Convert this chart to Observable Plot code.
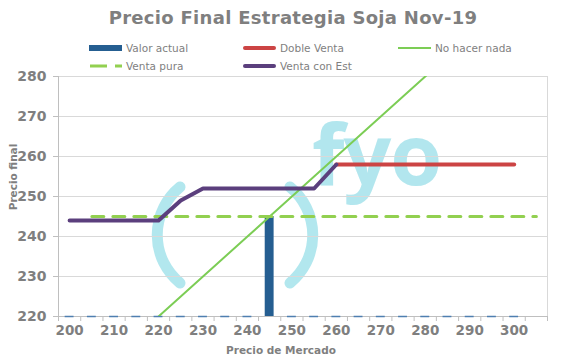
<!DOCTYPE html>
<html>
<head>
<meta charset="utf-8">
<script src="https://cdn.jsdelivr.net/npm/d3@7"></script>
<script src="https://cdn.jsdelivr.net/npm/@observablehq/plot@0.6"></script>
<style>
  html, body { margin: 0; padding: 0; background: #fff; }
  #wrap { position: relative; width: 562px; height: 360px; font-family: "DejaVu Sans", sans-serif; }
  #title { position: absolute; left: 0; top: 7px; width: 586px; text-align: center; font-weight: bold; font-size: 18px; color: #7f7f7f; letter-spacing: 0.3px; }
  .leg { position: absolute; font-size: 10.5px; color: #7f7f7f; display: flex; align-items: center; white-space: nowrap; }
  .sw { width: 33px; margin-right: 4px; }
  #wm { position: absolute; left: 0; top: 0; }
  #chart { position: absolute; left: 0; top: 0; }
  .xt { position: absolute; font-weight: bold; font-size: 10.5px; color: #7f7f7f; }
</style>
</head>
<body>
<div id="wrap">
  <svg id="wm" width="562" height="360">
    <g fill="none" stroke="#9fe1ea" stroke-width="11" stroke-linecap="round" opacity="0.8">
      <path d="M 180 187 A 62 62 0 0 0 180 283"></path>
      <path d="M 290 187 A 62 62 0 0 1 290 283"></path>
    </g>
    <text x="312" y="185" font-family="'Open Sans', sans-serif" font-weight="bold" font-size="84" fill="#9fe1ea" opacity="0.8" letter-spacing="-1">fyo</text>
  </svg>
  <div id="chart"></div>
  <div id="title">Precio Final Estrategia Soja Nov-19</div>
  <div id="legend"></div>
  <div class="xt" style="left:0;width:562px;top:344px;text-align:center;">Precio de Mercado</div>
  <div class="xt" style="left:13px;top:177px;transform:translate(-50%,-50%) rotate(-90deg);">Precio final</div>
</div>
<script>
// Categories (Precio de Mercado)
const categories = [200,205,210,215,220,225,230,235,240,245,250,255,260,265,270,275,280,285,290,295,300,305];
const xTickLabels = [200,210,220,230,240,250,260,270,280,290,300];
const yTickLabels = [220,230,240,250,260,270,280];

// Series
const valorActualX = [200,205,210,215,220,225,230,235,240,245,250,255,260,265,270,275,280,285,290,295,300];
const valorActual   = [0,0,0,0,0,0,0,0,0,245,0,0,0,0,0,0,0,0,0,0,0];

const dobleVentaX = [260,265,270,275,280,285,290,295,300];
const dobleVenta  = [258,258,258,258,258,258,258,258,258];

const noHacerNadaX = [200,205,210,215,220,225,230,235,240,245,250,255,260,265,270,275,280,285,290,295,300,305];
const noHacerNada  = [200,205,210,215,220,225,230,235,240,245,250,255,260,265,270,275,280,285,290,295,300,305];

const ventaPuraX = [205,210,215,220,225,230,235,240,245,250,255,260,265,270,275,280,285,290,295,300,305];
const ventaPura  = [245,245,245,245,245,245,245,245,245,245,245,245,245,245,245,245,245,245,245,245,245];

const ventaConEstX = [200,205,210,215,220,225,230,235,240,245,250,255,260];
const ventaConEst  = [244,244,244,244,244,249,252,252,252,252,252,252,258];

const seriesNames = ["Valor actual","Doble Venta","No hacer nada","Venta pura","Venta con Est"];
const colors = {
  "Valor actual": "#255e91",
  "Doble Venta": "#cc4444",
  "No hacer nada": "#7ccd55",
  "Venta pura": "#92d050",
  "Venta con Est": "#5b3f7d"
};

const yMin = 220, yMax = 280;
const half = 2.5; // half category width
const barHalf = 1;

const bars = valorActualX.map((x, i) => ({x, v: valorActual[i]}));
const line = (xs, ys) => xs.map((x, i) => ({x, y: ys[i]}));
const boundaries = categories.map(c => c - half).concat([categories[categories.length - 1] + half]);

const axisFont = {fontWeight: "bold", fill: "#7f7f7f"};

const plot = Plot.plot({
  width: 562,
  height: 360,
  marginLeft: 58,
  marginRight: 15,
  marginTop: 76,
  marginBottom: 44,
  style: {background: "transparent", fontFamily: "DejaVu Sans, sans-serif"},
  x: {domain: [categories[0] - half, categories[categories.length - 1] + half], axis: null},
  y: {domain: [yMin, yMax], axis: null},
  marks: [
    Plot.gridY(yTickLabels.filter(d => d > yMin && d < yMax), {stroke: "#d9d9d9", strokeOpacity: 1}),
    Plot.frame({stroke: "#d9d9d9"}),
    // y axis
    Plot.axisY({ticks: yTickLabels, tickSize: 5, tickPadding: 7, stroke: "#bfbfbf", fontSize: 14, ...axisFont, tickFormat: d => String(d), label: null}),
    Plot.ruleX([categories[0] - half], {stroke: "#bfbfbf"}),
    // x axis
    Plot.ruleY([yMin], {stroke: "#bfbfbf"}),
    Plot.axisX({ticks: boundaries, tickSize: 5, stroke: "#bfbfbf", tickFormat: () => "", label: null}),
    Plot.axisX({ticks: xTickLabels, tickSize: 0, tickPadding: 9, fontSize: 13.5, ...axisFont, tickFormat: d => String(d), label: null}),
    // Valor actual bars
    Plot.rectY(bars.filter(d => d.v > yMin), {x1: d => d.x - barHalf, x2: d => d.x + barHalf, y1: yMin, y2: "v", fill: colors["Valor actual"]}),
    Plot.ruleY(bars.filter(d => d.v <= yMin), {x1: d => d.x - barHalf, x2: d => d.x + barHalf, y: yMin, stroke: "#4f7fb0", strokeWidth: 1.5}),
    // No hacer nada
    Plot.line(line(noHacerNadaX, noHacerNada), {x: "x", y: "y", stroke: colors["No hacer nada"], strokeWidth: 2, clip: true}),
    // Venta pura
    Plot.line(line(ventaPuraX, ventaPura), {x: "x", y: "y", stroke: colors["Venta pura"], strokeWidth: 3, strokeDasharray: "12,9"}),
    // Doble Venta
    Plot.line(line(dobleVentaX, dobleVenta), {x: "x", y: "y", stroke: colors["Doble Venta"], strokeWidth: 4, strokeLinejoin: "round"}),
    // Venta con Est
    Plot.line(line(ventaConEstX, ventaConEst), {x: "x", y: "y", stroke: colors["Venta con Est"], strokeWidth: 4, strokeLinejoin: "round"})
  ]
});
document.getElementById("chart").appendChild(plot);

// Legend
const legendPos = [[89, 48], [243, 48], [398, 48], [89, 66], [243, 66]];
const legend = document.getElementById("legend");
seriesNames.forEach((name, i) => {
  const [lx, ly] = legendPos[i];
  const div = document.createElement("div");
  div.className = "leg";
  div.style.left = lx + "px";
  div.style.top = (ly - 7) + "px";
  div.style.height = "14px";
  let sw;
  if (name === "Valor actual") {
    sw = `<svg class="sw" width="33" height="14"><rect x="0" y="4" width="33" height="6" fill="${colors[name]}"/></svg>`;
  } else if (name === "Venta pura") {
    sw = `<svg class="sw" width="33" height="14"><line x1="1" x2="33" y1="7" y2="7" stroke="${colors[name]}" stroke-width="3" stroke-dasharray="17,8"/></svg>`;
  } else if (name === "No hacer nada") {
    sw = `<svg class="sw" width="33" height="14"><line x1="0" x2="33" y1="7" y2="7" stroke="${colors[name]}" stroke-width="2"/></svg>`;
  } else {
    sw = `<svg class="sw" width="33" height="14"><line x1="2" x2="31" y1="7" y2="7" stroke="${colors[name]}" stroke-width="4" stroke-linecap="round"/></svg>`;
  }
  div.innerHTML = sw + `<span>${name}</span>`;
  legend.appendChild(div);
});
</script>
</body>
</html>
